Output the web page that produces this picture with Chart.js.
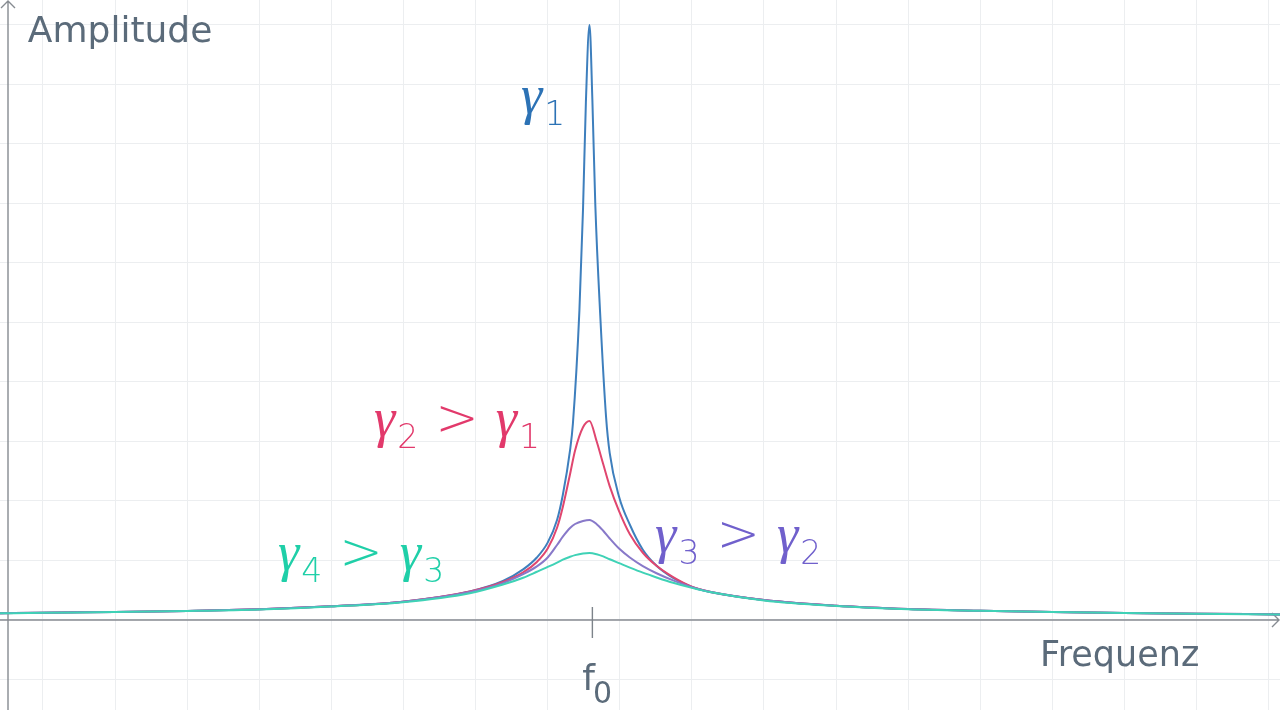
<!DOCTYPE html>
<html>
<head>
<meta charset="utf-8">
<script src="https://cdn.jsdelivr.net/npm/chart.js@4.4.1/dist/chart.umd.min.js"></script>
<style>
    html, body { margin: 0; padding: 0; background: #ffffff; }
    canvas { display: block; }
</style>
</head>
<body>
<canvas id="resonanzChart" width="1280" height="710"></canvas>
<script>
// Werte, x und y in Gittereinheiten
const blueFreq = [-0.6, 0, 1, 2, 3.01, 3.99, 4.99, 5.92, 6.38, 6.66, 6.85, 7.00, 7.13, 7.21, 7.31, 7.35, 7.44, 7.49, 7.53, 7.58,
    7.62, 7.66, 7.73, 7.81, 7.86, 7.99, 8.14, 8.32, 8.51, 8.74, 9.00, 9.25, 10, 11, 12, 13, 14, 15, 16, 17.16];
const blueAmp = [0.113, 0.123, 0.134, 0.151, 0.180, 0.230, 0.308, 0.479, 0.655, 0.85, 1.05, 1.30, 1.68, 2.10, 2.85, 3.30, 5.20, 6.90, 8.70, 10.0,
    8.74, 7.00, 5.10, 3.41, 2.81, 2.07, 1.60, 1.18, 0.91, 0.706, 0.555, 0.471, 0.336, 0.240, 0.185, 0.156, 0.134, 0.118, 0.106, 0.094];

const wideFreq = [-0.6, 0, 1, 2, 3.01, 3.99, 4.99, 5.92, 6.38, 6.66, 6.85, 7.00, 7.13, 7.21, 7.31, 7.38, 7.49, 7.58,
    7.68, 7.77, 7.86, 7.99, 8.14, 8.32, 8.51, 8.74, 9.00, 9.25, 10, 11, 12, 13, 14, 15, 16, 17.16];
const redAmp = [0.113, 0.123, 0.134, 0.151, 0.180, 0.230, 0.308, 0.479, 0.639, 0.80, 0.975, 1.20, 1.55, 1.90, 2.45, 2.85, 3.24, 3.345,
    3.00, 2.62, 2.25, 1.83, 1.44, 1.13, 0.91, 0.72, 0.56, 0.475, 0.336, 0.240, 0.185, 0.156, 0.134, 0.118, 0.106, 0.094];
const purpleAmp = [0.113, 0.123, 0.134, 0.151, 0.180, 0.230, 0.306, 0.47, 0.62, 0.77, 0.90, 1.05, 1.26, 1.40, 1.546, 1.613, 1.664, 1.681,
    1.61, 1.50, 1.37, 1.20, 1.05, 0.905, 0.785, 0.665, 0.55, 0.475, 0.336, 0.240, 0.185, 0.156, 0.134, 0.118, 0.106, 0.094];
const tealAmp = [0.111, 0.121, 0.133, 0.150, 0.176, 0.225, 0.299, 0.45, 0.595, 0.71, 0.81, 0.891, 0.965, 1.015, 1.062, 1.09, 1.118, 1.126,
    1.105, 1.068, 1.02, 0.955, 0.88, 0.795, 0.715, 0.625, 0.54, 0.47, 0.328, 0.235, 0.182, 0.155, 0.133, 0.116, 0.104, 0.092];

const curveLabels = ['γ1', 'γ2 > γ1', 'γ3 > γ2', 'γ4 > γ3'];
const xGridTicks = [0, 1, 2, 3, 4, 5, 6, 7, 8, 9, 10, 11, 12, 13, 14, 15, 16, 17];
const yGridTicks = [-1, 0, 1, 2, 3, 4, 5, 6, 7, 8, 9, 10];
const axisOrigin = { x: -0.485, y: 0 };
const f0Value = 7.62;
const axisTitles = ['Frequenz', 'Amplitude'];

function toPoints(xs, ys) {
    return xs.map(function (x, i) { return { x: x, y: ys[i] }; });
}

// Beschriftungen mit tiefgestellten Indizes zeichnen
function drawGammaLabel(ctx, text, x, y, color) {
    ctx.fillStyle = color;
    ctx.textBaseline = 'alphabetic';
    for (const ch of text) {
        if (ch === 'γ') {
            ctx.font = 'italic 54px "Liberation Serif"';
            ctx.fillText(ch, x, y);
            x += ctx.measureText(ch).width;
        } else if (ch === '>') {
            ctx.font = '200 52px "DejaVu Sans"';
            ctx.fillText(ch, x, y - 1);
            x += ctx.measureText(ch).width;
        } else if (ch === ' ') {
            x += 17;
        } else {
            ctx.font = '200 33px "DejaVu Sans"';
            ctx.fillText(ch, x + 2, y + 12);
            x += ctx.measureText(ch).width + 2;
        }
    }
}

const axesPlugin = {
    id: 'axesPlugin',
    beforeDatasetsDraw(chart) {
        const ctx = chart.ctx;
        const xs = chart.scales.x;
        const ys = chart.scales.y;
        const ox = xs.getPixelForValue(axisOrigin.x);
        const oy = ys.getPixelForValue(axisOrigin.y);
        const right = chart.chartArea.right;
        const top = chart.chartArea.top;
        ctx.save();
        ctx.strokeStyle = '#868b91';
        ctx.lineWidth = 1.4;
        ctx.beginPath();
        ctx.moveTo(ox, chart.chartArea.bottom);
        ctx.lineTo(ox, top + 1);
        ctx.moveTo(ox - 7, top + 8);
        ctx.lineTo(ox, top + 1);
        ctx.lineTo(ox + 7, top + 8);
        ctx.moveTo(chart.chartArea.left, oy);
        ctx.lineTo(right - 1, oy);
        ctx.moveTo(right - 8, oy - 7);
        ctx.lineTo(right - 1, oy);
        ctx.lineTo(right - 8, oy + 7);
        ctx.stroke();
        // f0 Markierung
        const fx = xs.getPixelForValue(f0Value);
        ctx.strokeStyle = '#7d838a';
        ctx.beginPath();
        ctx.moveTo(fx, oy - 13);
        ctx.lineTo(fx, oy + 18);
        ctx.stroke();
        ctx.restore();
    },
    afterDraw(chart) {
        const ctx = chart.ctx;
        const xs = chart.scales.x;
        const ys = chart.scales.y;
        ctx.save();
        ctx.fillStyle = '#5b6b7a';
        ctx.textBaseline = 'alphabetic';
        ctx.font = '36px "DejaVu Sans"';
        ctx.fillText(axisTitles[1], xs.getPixelForValue(-0.21), ys.getPixelForValue(9.71));
        ctx.font = '35px "DejaVu Sans"';
        ctx.fillText(axisTitles[0], xs.getPixelForValue(13.83), ys.getPixelForValue(-0.77));
        ctx.font = '36px "DejaVu Sans"';
        ctx.fillText('f', xs.getPixelForValue(7.48), ys.getPixelForValue(-1.18));
        ctx.font = '30px "DejaVu Sans"';
        ctx.fillText('0', xs.getPixelForValue(7.63), ys.getPixelForValue(-1.39));

        const spots = [[6.63, 8.52], [4.59, 3.09], [8.49, 1.14], [3.26, 0.84]];
        const colors = ['#2c72b5', '#e2396b', '#7060cc', '#1fcfa8'];
        curveLabels.forEach(function (txt, i) {
            drawGammaLabel(ctx, txt, xs.getPixelForValue(spots[i][0]), ys.getPixelForValue(spots[i][1]), colors[i]);
        });
        ctx.restore();
    }
};

document.addEventListener('DOMContentLoaded', function () {
    var ctx = document.getElementById('resonanzChart').getContext('2d');

    var lineStyle = {
        borderWidth: 2,
        pointRadius: 0,
        fill: false,
        cubicInterpolationMode: 'monotone'
    };

    var myChart = new Chart(ctx, {
        type: 'line',
        data: {
            datasets: [
                Object.assign({ label: 'γ4', data: toPoints(wideFreq, tealAmp), borderColor: '#3fd2b6' }, lineStyle),
                Object.assign({ label: 'γ3', data: toPoints(wideFreq, purpleAmp), borderColor: '#8879c9' }, lineStyle),
                Object.assign({ label: 'γ2', data: toPoints(wideFreq, redAmp), borderColor: '#e0466f' }, lineStyle),
                Object.assign({ label: 'γ1', data: toPoints(blueFreq, blueAmp), borderColor: '#3e7fbd' }, lineStyle)
            ]
        },
        options: {
            responsive: false,
            animation: false,
            devicePixelRatio: 1,
            layout: { padding: 0, autoPadding: false },
            plugins: {
                legend: { display: false },
                tooltip: { enabled: false }
            },
            scales: {
                x: {
                    type: 'linear',
                    min: -0.596,
                    max: 17.157,
                    afterBuildTicks: function (scale) {
                        scale.ticks = xGridTicks.map(function (v) { return { value: v }; });
                    },
                    ticks: { display: false },
                    grid: { color: '#eceef0', lineWidth: 1, drawTicks: false },
                    border: { display: false }
                },
                y: {
                    type: 'linear',
                    min: -1.513,
                    max: 10.42,
                    afterBuildTicks: function (scale) {
                        scale.ticks = yGridTicks.map(function (v) { return { value: v }; });
                    },
                    ticks: { display: false },
                    grid: { color: '#eceef0', lineWidth: 1, drawTicks: false },
                    border: { display: false }
                }
            }
        },
        plugins: [axesPlugin]
    });
});
</script>
</body>
</html>
